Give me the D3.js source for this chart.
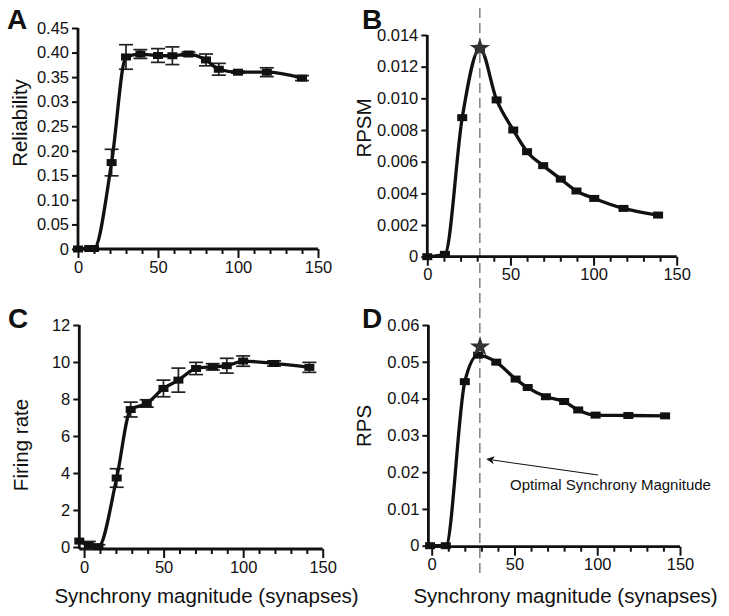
<!DOCTYPE html>
<html>
<head>
<meta charset="utf-8">
<script src="https://cdn.jsdelivr.net/npm/d3@7"></script>
<style>
  html, body { margin: 0; padding: 0; background: #fff; }
  svg { display: block; font-family: "Liberation Sans", Arial, Helvetica, sans-serif; }
</style>
</head>
<body>
<svg id="chart" width="729" height="616"></svg>
<script>
// ---------- DATA ----------
const xTickVals = [0, 50, 100, 150];
const xTickLabels = ["0", "50", "100", "150"];
const xMinorVals = [10, 20, 30, 40, 60, 70, 80, 90, 110, 120, 130, 140];

// Panel A: Reliability
const xA = [0, 7, 10, 21, 30, 39, 50, 59, 69, 80, 88, 100, 118, 140];
const relA = [0, 0.001, 0.001, 0.176, 0.391, 0.397, 0.394, 0.3935, 0.397, 0.385, 0.366, 0.360, 0.360, 0.348];
const errA = [0, 0, 0, 0.027, 0.025, 0.009, 0.014, 0.018, 0.004, 0.012, 0.012, 0.002, 0.009, 0.005];
const yTicksA = [0, 0.05, 0.10, 0.15, 0.20, 0.25, 0.30, 0.35, 0.40, 0.45];
const yLabelsA = ["0", "0.05", "0.10", "0.15", "0.20", "0.25", "0.03", "0.35", "0.40", "0.45"];

// Panel B: RPSM
const xB = [0, 10.6, 21, 31.6, 41.7, 51.7, 60, 69.7, 80.3, 89.7, 100.4, 118, 138.8];
const rpsmB = [0, 0.00015, 0.00878, 0.01316, 0.0099, 0.0080, 0.00663, 0.00575, 0.0049, 0.00415, 0.00368, 0.00305, 0.00263];
const starB = [31.6, 0.01316];
const yTicksB = [0, 0.002, 0.004, 0.006, 0.008, 0.010, 0.012, 0.014];
const yLabelsB = ["0", "0.002", "0.004", "0.006", "0.008", "0.010", "0.012", "0.014"];

// Panel C: Firing rate
const xC = [-3, 3, 9, 20.5, 29.3, 39.4, 49.9, 59.3, 70.4, 80.9, 89.7, 100, 119.4, 141.6];
const rateC = [0.32, 0.1, 0.02, 3.73, 7.43, 7.76, 8.57, 9.02, 9.65, 9.74, 9.8, 10.05, 9.92, 9.71];
const errC = [0, 0.2, 0.1, 0.5, 0.4, 0.2, 0.45, 0.65, 0.33, 0.17, 0.4, 0.28, 0.14, 0.27];
const yTicksC = [0, 2, 4, 6, 8, 10, 12];
const yLabelsC = ["0", "2", "4", "6", "8", "10", "12"];

// Panel D: RPS
const xD = [-1, 8.5, 20, 28, 39, 50.7, 58, 69, 80, 88.5, 99, 118.8, 141];
const rpsD = [0, 0, 0.0446, 0.0518, 0.0499, 0.0453, 0.0430, 0.0405, 0.0392, 0.0369, 0.0355, 0.0354, 0.0353];
const starD = [29.2, 0.0541];
const yTicksD = [0, 0.01, 0.02, 0.03, 0.04, 0.05, 0.06];
const yLabelsD = ["0", "0.01", "0.02", "0.03", "0.04", "0.05", "0.06"];

// Annotation (in panel D data units)
const annText = "Optimal Synchrony Magnitude";
const annArrowFrom = [100.5, 0.0192];
const annArrowTo = [36.8, 0.0233];
const annTextPos = [47.3, 0.0151];
const optimalX = 31.6; // in panel B units

const xTitle = "Synchrony magnitude (synapses)";

// ---------- DRAW ----------
const svg = d3.select("#chart");
const ink = "#111";

const defs = svg.append("defs");
defs.append("marker")
  .attr("id", "arrowhead").attr("viewBox", "0 0 10 10")
  .attr("refX", 2).attr("refY", 5)
  .attr("markerWidth", 12).attr("markerHeight", 8)
  .attr("markerUnits", "userSpaceOnUse")
  .attr("orient", "auto")
  .append("path").attr("d", "M0,0 L10,5 L0,10 L2.5,5 Z").attr("fill", ink);

function panel(cfg) {
  const g = svg.append("g");
  const x = d3.scaleLinear().domain(cfg.xDomain).range(cfg.xRange);
  const y = d3.scaleLinear().domain(cfg.yDomain).range(cfg.yRange);
  const axisY = cfg.axisYOffset ? y(cfg.yDomain[0]) + cfg.axisYOffset : y(cfg.yDomain[0]);

  // y axis
  const ya = g.append("g").attr("transform", `translate(${cfg.xRange[0]},0)`)
    .call(d3.axisLeft(y).tickValues(cfg.yTicks)
      .tickFormat((d, i) => cfg.yLabels[i]).tickSize(6).tickSizeOuter(0).tickPadding(3));
  ya.select(".domain").attr("d", `M0,${axisY}V${cfg.yRange[1]}`);

  // x axis (major)
  const xa = g.append("g").attr("transform", `translate(0,${axisY})`)
    .call(d3.axisBottom(x).tickValues(xTickVals)
      .tickFormat((d, i) => xTickLabels[i]).tickSize(9).tickSizeOuter(0).tickPadding(3));
  xa.select(".domain").attr("d", `M${cfg.xRange[0]},0H${cfg.xRange[1]}`);
  // minor ticks
  const xm = g.append("g").attr("transform", `translate(0,${axisY})`)
    .call(d3.axisBottom(x).tickValues(xMinorVals).tickFormat("").tickSize(5).tickSizeOuter(0));
  xm.select(".domain").remove();

  [ya, xa, xm].forEach(a => {
    a.selectAll(".domain").attr("stroke", ink).attr("stroke-width", 2.8);
    a.selectAll(".tick line").attr("stroke", ink).attr("stroke-width", 2);
    a.selectAll(".tick text").attr("fill", ink).attr("font-size", 16.5)
      .attr("font-family", "Liberation Sans, Arial, sans-serif");
  });

  const pts = cfg.xs.map((v, i) => ({ x: v, y: cfg.ys[i], e: cfg.errs ? cfg.errs[i] : 0 }));

  // error bars
  const eb = g.append("g").attr("stroke", "#222").attr("stroke-width", 1.7);
  pts.filter(p => p.e > 0).forEach(p => {
    const cx = x(p.x), y1 = y(p.y - p.e), y2 = y(p.y + p.e);
    eb.append("line").attr("x1", cx).attr("x2", cx).attr("y1", y1).attr("y2", y2);
    eb.append("line").attr("x1", cx - 7).attr("x2", cx + 7).attr("y1", y1).attr("y2", y1);
    eb.append("line").attr("x1", cx - 7).attr("x2", cx + 7).attr("y1", y2).attr("y2", y2);
  });

  // line
  const line = d3.line().x(d => x(d.x)).y(d => y(d.y)).curve(d3.curveMonotoneX);
  g.append("path").datum(pts).attr("d", line)
    .attr("fill", "none").attr("stroke", ink).attr("stroke-width", 3.3).attr("stroke-linejoin", "round");

  // markers
  g.selectAll("rect.m").data(pts).enter().append("rect").attr("class", "m")
    .attr("x", d => x(d.x) - 5).attr("y", d => y(d.y) - 3.5)
    .attr("width", 10).attr("height", 7).attr("fill", ink);

  // star
  if (cfg.star) {
    g.append("path").attr("d", d3.symbol().type(d3.symbolStar).size(130)())
      .attr("transform", `translate(${x(cfg.star[0])},${y(cfg.star[1])})`)
      .attr("fill", "#333");
  }

  // y title
  g.append("text").attr("transform", `translate(${cfg.yTitlePos[0]},${cfg.yTitlePos[1]}) rotate(-90)`)
    .attr("text-anchor", "middle").attr("font-size", 20.5).attr("fill", ink).text(cfg.yTitle);

  // panel letter
  g.append("text").attr("x", cfg.letterPos[0]).attr("y", cfg.letterPos[1])
    .attr("font-size", 28).attr("font-weight", "bold").attr("fill", ink).text(cfg.letter);

  if (cfg.showXTitle) {
    g.append("text").attr("x", cfg.xTitleX).attr("y", 603)
      .attr("text-anchor", "middle").attr("font-size", 20.5).attr("fill", ink).text(xTitle);
  }
  return { x, y, g };
}

const pA = panel({ xDomain: [0, 150], xRange: [78, 318], yDomain: [0, 0.45], yRange: [249, 28],
  xs: xA, ys: relA, errs: errA, yTicks: yTicksA, yLabels: yLabelsA,
  yTitle: "Reliability", yTitlePos: [27, 123], letter: "A", letterPos: [7, 29] });

const pB = panel({ xDomain: [0, 150], xRange: [427.3, 676.7], yDomain: [0, 0.014], yRange: [256.7, 35],
  xs: xB, ys: rpsmB, yTicks: yTicksB, yLabels: yLabelsB, star: starB,
  yTitle: "RPSM", yTitlePos: [371, 128], letter: "B", letterPos: [362, 29] });

const pC = panel({ xDomain: [-3, 150], xRange: [79.3, 322.7], yDomain: [0, 12], yRange: [547, 325],
  xs: xC, ys: rateC, errs: errC, yTicks: yTicksC, yLabels: yLabelsC, axisYOffset: 2,
  yTitle: "Firing rate", yTitlePos: [28, 445], letter: "C", letterPos: [8, 328],
  showXTitle: true, xTitleX: 206.5 });

const pD = panel({ xDomain: [-2, 150], xRange: [428.4, 680], yDomain: [0, 0.06], yRange: [545.7, 325],
  xs: xD, ys: rpsD, yTicks: yTicksD, yLabels: yLabelsD, star: starD, axisYOffset: 1,
  yTitle: "RPS", yTitlePos: [371, 426], letter: "D", letterPos: [362, 328],
  showXTitle: true, xTitleX: 565.5 });

// dashed optimal line spanning B and D
svg.insert("line", ":first-child")
  .attr("x1", pB.x(optimalX)).attr("x2", pB.x(optimalX))
  .attr("y1", 8).attr("y2", 578)
  .attr("stroke", "#777").attr("stroke-width", 1.4).attr("stroke-dasharray", "10,5");

// annotation
svg.append("line")
  .attr("x1", pD.x(annArrowFrom[0])).attr("y1", pD.y(annArrowFrom[1]))
  .attr("x2", pD.x(annArrowTo[0])).attr("y2", pD.y(annArrowTo[1]))
  .attr("stroke", ink).attr("stroke-width", 1.1).attr("marker-end", "url(#arrowhead)");
svg.append("text").attr("x", pD.x(annTextPos[0])).attr("y", pD.y(annTextPos[1]))
  .attr("font-size", 15).attr("fill", ink).text(annText);
</script>
</body>
</html>
